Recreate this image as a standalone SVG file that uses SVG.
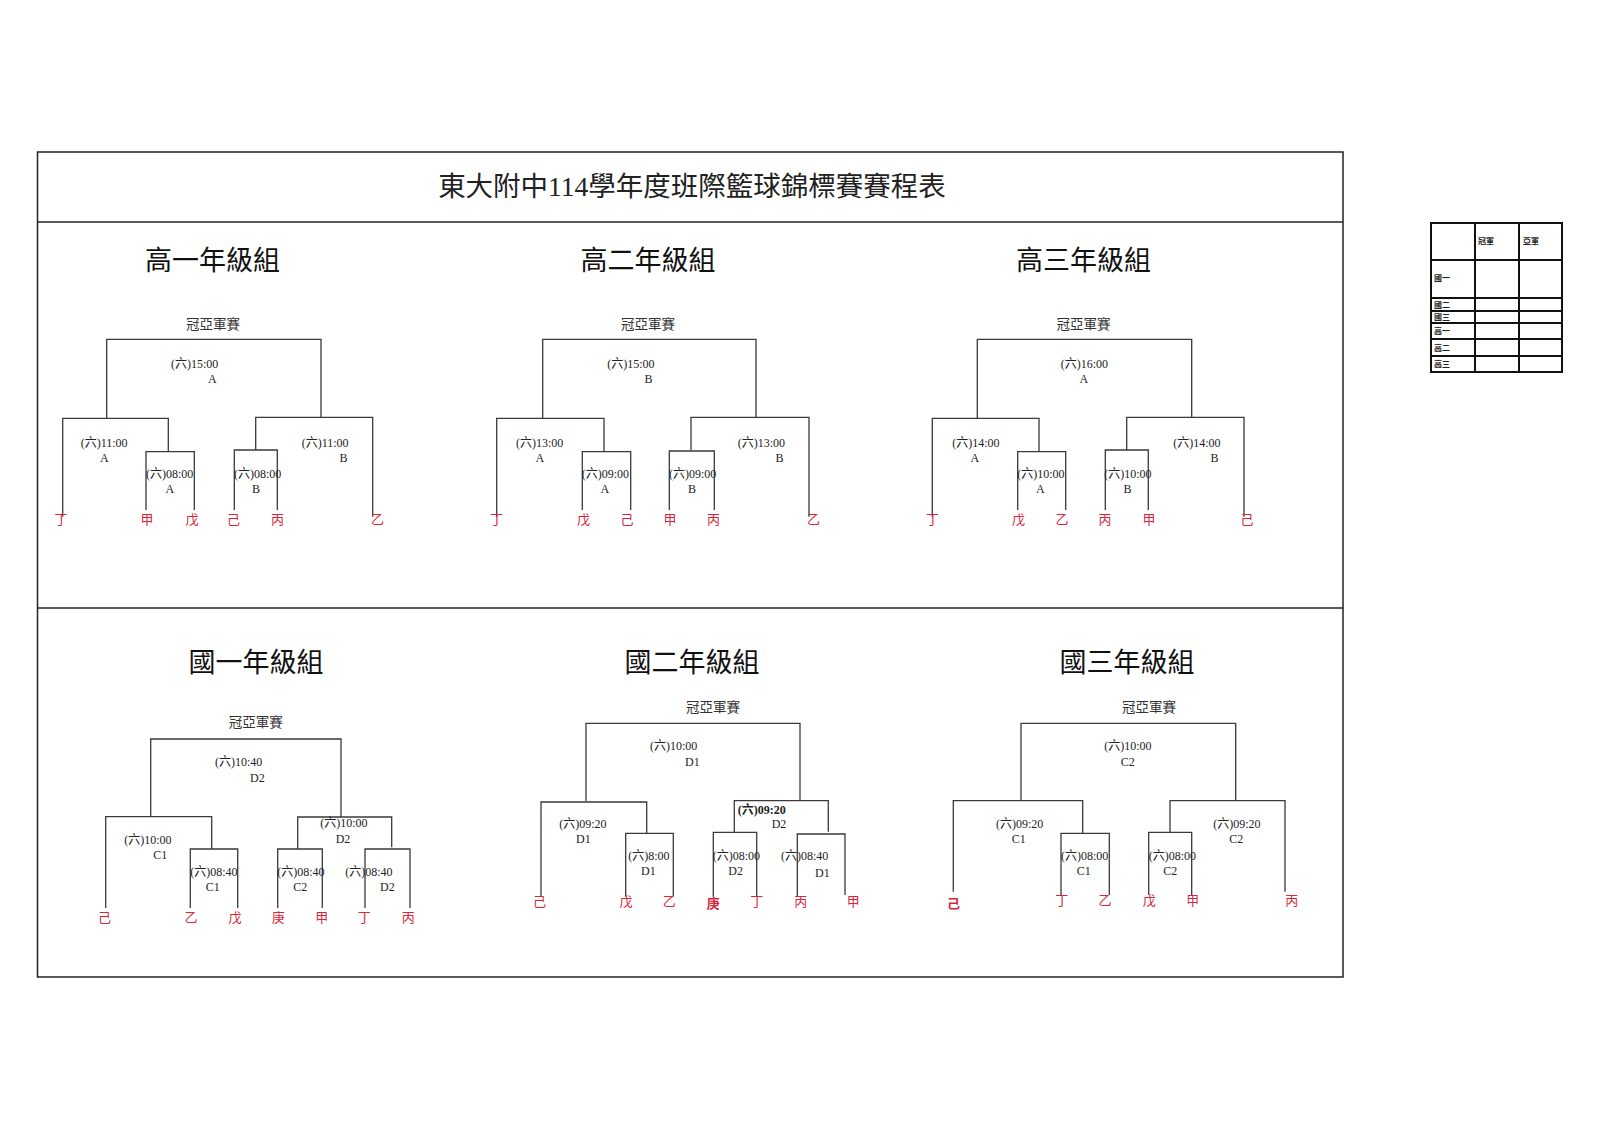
<svg xmlns="http://www.w3.org/2000/svg" width="1600" height="1130" viewBox="0 0 1600 1130">
<style>
text{font-family:"Liberation Serif","Noto Sans CJK TC",serif;fill:#222}
.ln{fill:none;stroke:#3a3a3a;stroke-width:1.3}
.fr{fill:none;stroke:#222;stroke-width:1.5}
.tb{fill:none;stroke:#111;stroke-width:2}
.t{font-size:12px}
.c{font-size:13.5px;text-anchor:middle;fill:#333}
.h{font-size:27px;text-anchor:middle;fill:#111}
.r{font-size:13px;text-anchor:middle;fill:#d9263a}
.s{font-size:8px;fill:#222;font-weight:bold}
</style>
<rect width="1600" height="1130" fill="#fff"/>
<g id="frame">
<rect class="fr" x="37.5" y="152" width="1305.5" height="825"/>
<line class="fr" x1="37.5" y1="222" x2="1343" y2="222"/>
<line class="fr" x1="37.5" y1="608" x2="1343" y2="608"/>
<text x="692" y="196" font-size="27.5" text-anchor="middle" fill="#111">東大附中114學年度班際籃球錦標賽賽程表</text>
</g>
<g id="headers">
<text class="h" x="212.5" y="270">高一年級組</text>
<text class="h" x="648" y="270">高二年級組</text>
<text class="h" x="1083.5" y="270">高三年級組</text>
<text class="h" x="256" y="672">國一年級組</text>
<text class="h" x="692" y="672">國二年級組</text>
<text class="h" x="1127" y="672">國三年級組</text>
</g>
<g id="connectors">
<path class="ln" d="M106.7 418.3V339.3H321V417.3M62.7 516.7V418.3H168.3V451.7M146 510V451.7H194.3V510M255.7 450V417.3H372.7V516.7M234.3 510V450H277.3V510"/>
<path class="ln" d="M542.7 418.3V339.3H756V417.3M496.7 516.7V418.3H604V451.7M582.3 510V451.7H630.7V510M691 450V417.3H809V516.7M669.3 510V451H714.3V510"/>
<path class="ln" d="M977.3 418.3V339.3H1191.7V417.3M932.3 516.7V418.3H1039V451.7M1017.7 510V451.7H1065.7V510M1126.7 450V417.3H1244V516.7M1105.3 510V450H1148.3V510"/>
<path class="ln" d="M150.7 816.7V739H341V816.7M105.7 908V816.7H211.7V849M190.3 908V849H237.7V908M297.7 848.3V817H391.7V847.3M277.7 908V849H322.3V908M365 908V849H410V908"/>
<path class="ln" d="M586 801V723.3H800V800.7M541 896.7V802H646.7V833.3M625.7 896.7V833.3H673.3V896.7M734.3 832.3V800.7H828.3V831.7M713.3 896.7V832.3H756.7V896.7M797.3 896.7V834H845V895"/>
<path class="ln" d="M1021 800.7V723.3H1235.7V800.7M953.3 891.7V800.7H1082.7V833.3M1061 895V833.3H1109.3V895M1170 831.7V800.7H1285V891.7M1148.7 895V832.3H1191.7V895"/>
</g>
<g id="g10">
<text class="c" x="213" y="329">冠亞軍賽</text>
<text class="t" x="171" y="368">(六)15:00</text><text class="t" x="208" y="383">A</text>
<text class="t" x="80.7" y="446.7">(六)11:00</text><text class="t" x="100" y="461.7">A</text>
<text class="t" x="146" y="478">(六)08:00</text><text class="t" x="165.5" y="493">A</text>
<text class="t" x="234" y="478">(六)08:00</text><text class="t" x="252" y="493">B</text>
<text class="t" x="301.7" y="446.7">(六)11:00</text><text class="t" x="339.5" y="461.7">B</text>
<text class="r" x="61" y="524">丁</text><text class="r" x="147" y="524">甲</text><text class="r" x="192" y="524">戊</text><text class="r" x="233.5" y="524">己</text><text class="r" x="277.5" y="524">丙</text><text class="r" x="377.5" y="524">乙</text>
</g>
<g id="g11">
<text class="c" x="648" y="329">冠亞軍賽</text>
<text class="t" x="607.3" y="368">(六)15:00</text><text class="t" x="644.5" y="383">B</text>
<text class="t" x="516" y="446.7">(六)13:00</text><text class="t" x="535.5" y="461.7">A</text>
<text class="t" x="581.7" y="478">(六)09:00</text><text class="t" x="600.5" y="493">A</text>
<text class="t" x="669" y="478">(六)09:00</text><text class="t" x="688" y="493">B</text>
<text class="t" x="737.7" y="446.7">(六)13:00</text><text class="t" x="775.5" y="461.7">B</text>
<text class="r" x="496.5" y="524">丁</text><text class="r" x="583.5" y="524">戊</text><text class="r" x="627" y="524">己</text><text class="r" x="670" y="524">甲</text><text class="r" x="713.5" y="524">丙</text><text class="r" x="813.5" y="524">乙</text>
</g>
<g id="g12">
<text class="c" x="1083.5" y="329">冠亞軍賽</text>
<text class="t" x="1060.7" y="368">(六)16:00</text><text class="t" x="1079.5" y="383">A</text>
<text class="t" x="952.3" y="446.7">(六)14:00</text><text class="t" x="970.5" y="461.7">A</text>
<text class="t" x="1017.3" y="478">(六)10:00</text><text class="t" x="1036" y="493">A</text>
<text class="t" x="1104.3" y="478">(六)10:00</text><text class="t" x="1123.5" y="493">B</text>
<text class="t" x="1173.3" y="446.7">(六)14:00</text><text class="t" x="1210.5" y="461.7">B</text>
<text class="r" x="932.5" y="524">丁</text><text class="r" x="1018.5" y="524">戊</text><text class="r" x="1062" y="524">乙</text><text class="r" x="1105" y="524">丙</text><text class="r" x="1149" y="524">甲</text><text class="r" x="1247" y="524">己</text>
</g>
<g id="g7">
<text class="c" x="255.7" y="727">冠亞軍賽</text>
<text class="t" x="215" y="766">(六)10:40</text><text class="t" x="250" y="781.7">D2</text>
<text class="t" x="124.3" y="844">(六)10:00</text><text class="t" x="153.3" y="859.3">C1</text>
<text class="t" x="320.3" y="826.7">(六)10:00</text><text class="t" x="335.7" y="842.7">D2</text>
<text class="t" x="190.3" y="875.7">(六)08:40</text><text class="t" x="205.7" y="891">C1</text>
<text class="t" x="277.3" y="875.7">(六)08:40</text><text class="t" x="293.3" y="891">C2</text>
<text class="t" x="345.3" y="875.7">(六)08:40</text><text class="t" x="380" y="891">D2</text>
<text class="r" x="104.5" y="922">己</text><text class="r" x="191" y="922">乙</text><text class="r" x="235" y="922">戊</text><text class="r" x="278.3" y="922">庚</text><text class="r" x="321.7" y="922">甲</text><text class="r" x="364.3" y="922">丁</text><text class="r" x="408.3" y="922">丙</text>
</g>
<g id="g8">
<text class="c" x="713" y="711.7">冠亞軍賽</text>
<text class="t" x="650" y="750">(六)10:00</text><text class="t" x="685" y="765.7">D1</text>
<text class="t" x="559.3" y="828.3">(六)09:20</text><text class="t" x="576" y="843.3">D1</text>
<text class="t" x="737.7" y="814.3" font-weight="bold">(六)09:20</text><text class="t" x="771.7" y="827.7">D2</text>
<text class="t" x="628.3" y="860">(六)8:00</text><text class="t" x="641" y="875">D1</text>
<text class="t" x="712.7" y="860">(六)08:00</text><text class="t" x="728.3" y="875">D2</text>
<text class="t" x="781" y="860">(六)08:40</text><text class="t" x="815" y="876.7">D1</text>
<text class="r" x="539.5" y="906">己</text><text class="r" x="626" y="906">戊</text><text class="r" x="669.3" y="906">乙</text><text class="r" x="713.3" y="908" font-weight="bold">庚</text><text class="r" x="756.7" y="906">丁</text><text class="r" x="800.7" y="906">丙</text><text class="r" x="853.3" y="906">甲</text>
</g>
<g id="g9">
<text class="c" x="1149" y="711.7">冠亞軍賽</text>
<text class="t" x="1104.3" y="750">(六)10:00</text><text class="t" x="1120.7" y="765.7">C2</text>
<text class="t" x="996" y="827.7">(六)09:20</text><text class="t" x="1011.7" y="843">C1</text>
<text class="t" x="1061" y="860">(六)08:00</text><text class="t" x="1076.7" y="875">C1</text>
<text class="t" x="1148.7" y="860">(六)08:00</text><text class="t" x="1163.3" y="875">C2</text>
<text class="t" x="1213.3" y="827.7">(六)09:20</text><text class="t" x="1229.3" y="843">C2</text>
<text class="r" x="953.5" y="908" font-weight="bold">己</text><text class="r" x="1061.7" y="905">丁</text><text class="r" x="1105" y="905">乙</text><text class="r" x="1149.3" y="905">戊</text><text class="r" x="1192.7" y="905">甲</text><text class="r" x="1291.7" y="905">丙</text>
</g>
<g id="results-table">
<rect class="tb" x="1431" y="223" width="131" height="149"/>
<path class="tb" d="M1475 223V372M1519 223V372M1431 260H1562M1431 298H1562M1431 311H1562M1431 323H1562M1431 339H1562M1431 356H1562"/>
<text class="s" x="1478" y="244">冠軍</text>
<text class="s" x="1523" y="244">亞軍</text>
<text class="s" x="1434" y="281">國一</text>
<text class="s" x="1434" y="307.5">國二</text>
<text class="s" x="1434" y="320">國三</text>
<text class="s" x="1434" y="334">高一</text>
<text class="s" x="1434" y="350.5">高二</text>
<text class="s" x="1434" y="367">高三</text>
</g>
</svg>
